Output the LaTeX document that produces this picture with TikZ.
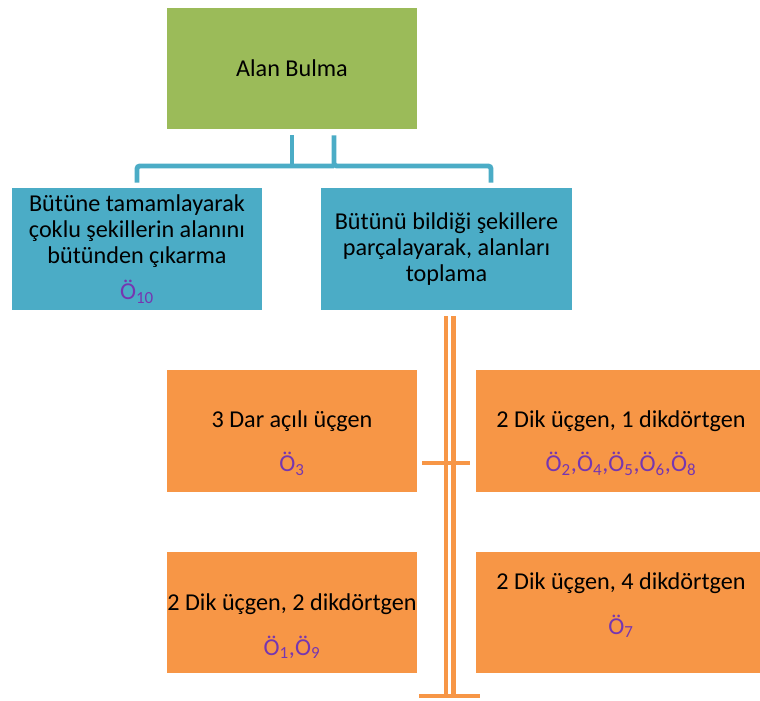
\documentclass[tikz,border=0pt]{standalone}
\usepackage{fontspec}
\setmainfont{Carlito}
\usetikzlibrary{calc}

\definecolor{alangreen}{HTML}{9BBB59}
\definecolor{alanblue}{HTML}{4BACC6}
\definecolor{alanorange}{HTML}{F79646}
\definecolor{alanpurple}{HTML}{7636B0}
\newcommand{\ogr}[1]{Ö\textsubscript{#1}}

\begin{document}
\begin{tikzpicture}[x=0.025cm, y=-0.025cm, font=\fontsize{17.2}{18.6}\selectfont,
    greenbox/.style={fill=alangreen, minimum width=6.25cm, minimum height=3.025cm, inner sep=0pt, align=center},
    bluebox/.style={fill=alanblue, minimum width=6.25cm, minimum height=3.05cm, inner sep=0pt, align=center},
    orangebox/.style={fill=alanorange, minimum width=6.25cm, minimum height=3.04cm, inner sep=0pt},
    txt/.style={align=center, inner sep=0pt},
    blueline/.style={draw=alanblue, line width=3.5pt},
    orangeline/.style={draw=alanorange, line width=3pt}]

    \useasboundingbox (0,0) rectangle (760,700);

    % boxes
    \node[greenbox] (alan) at (292,68.5) {Alan Bulma};
    \node[bluebox] (butun) at (137,249) {Bütüne tamamlayarak\\çoklu şekillerin alanını\\bütünden çıkarma\\[7pt]\textcolor{alanpurple}{\ogr{10}}};
    \node[bluebox, minimum width=6.275cm] (parca) at (446.5,249) {Bütünü bildiği şekillere\\parçalayarak, alanları\\toplama};

    \node[orangebox] (dar) at (292,431) {};
    \node[orangebox, minimum width=7.1cm] (dikbir) at (618,431) {};
    \node[orangebox] (dikiki) at (292,612.5) {};
    \node[orangebox, minimum width=7.1cm] (dikdort) at (618,612.5) {};

    \node[txt] (dartxt) at ($(dar.center)+(0,12)$) {3 Dar açılı üçgen\\[13pt]\textcolor{alanpurple}{\ogr{3}}};
    \node[txt] (dikbirtxt) at ($(dikbir.center)+(3,12)$) {2 Dik üçgen, 1 dikdörtgen\\[13pt]\textcolor{alanpurple}{\ogr{2},\ogr{4},\ogr{5},\ogr{6},\ogr{8}}};
    \node[txt] (dikikitxt) at ($(dikiki.center)+(0,14)$) {2 Dik üçgen, 2 dikdörtgen\\[13pt]\textcolor{alanpurple}{\ogr{1},\ogr{9}}};
    \node[txt] (dikdorttxt) at ($(dikdort.center)+(3,-7)$) {2 Dik üçgen, 4 dikdörtgen\\[13pt]\textcolor{alanpurple}{\ogr{7}}};

    % blue connectors
    \coordinate (gsol) at ($(alan.south)+(0,6)$);
    \coordinate (gsag) at ($(alan.south)+(42,6)$);
    \coordinate (bus) at (0,166);
    \draw[blueline] (gsol) -- (gsol |- bus);
    \draw[blueline, rounded corners=2pt] (gsag) -- (gsag |- bus) -| ($(parca.north)+(44.5,-5)$);
    \draw[blueline, rounded corners=2pt] (gsag |- bus) -| ($(butun.north)+(0,-5)$);

    % orange connectors
    \coordinate (osol) at ($(parca.south)+(-0.5,6)$);
    \coordinate (osag) at ($(parca.south)+(7,6)$);
    \coordinate (dip) at (0,697);
    \draw[orangeline] (osol) -- (osol |- dip);
    \draw[orangeline] (osag) -- (osag |- dip);
    \coordinate (tiksol) at ($(dar.east)+(5,32)$);
    \coordinate (tiksag) at ($(dikbir.west)+(-6,32)$);
    \draw[orangeline] (tiksol) -- (tiksag);
    \coordinate (dipsol) at (419,696);
    \coordinate (dipsag) at (480,696);
    \draw[orangeline] (dipsol) -- (dipsag);
\end{tikzpicture}
\end{document}
